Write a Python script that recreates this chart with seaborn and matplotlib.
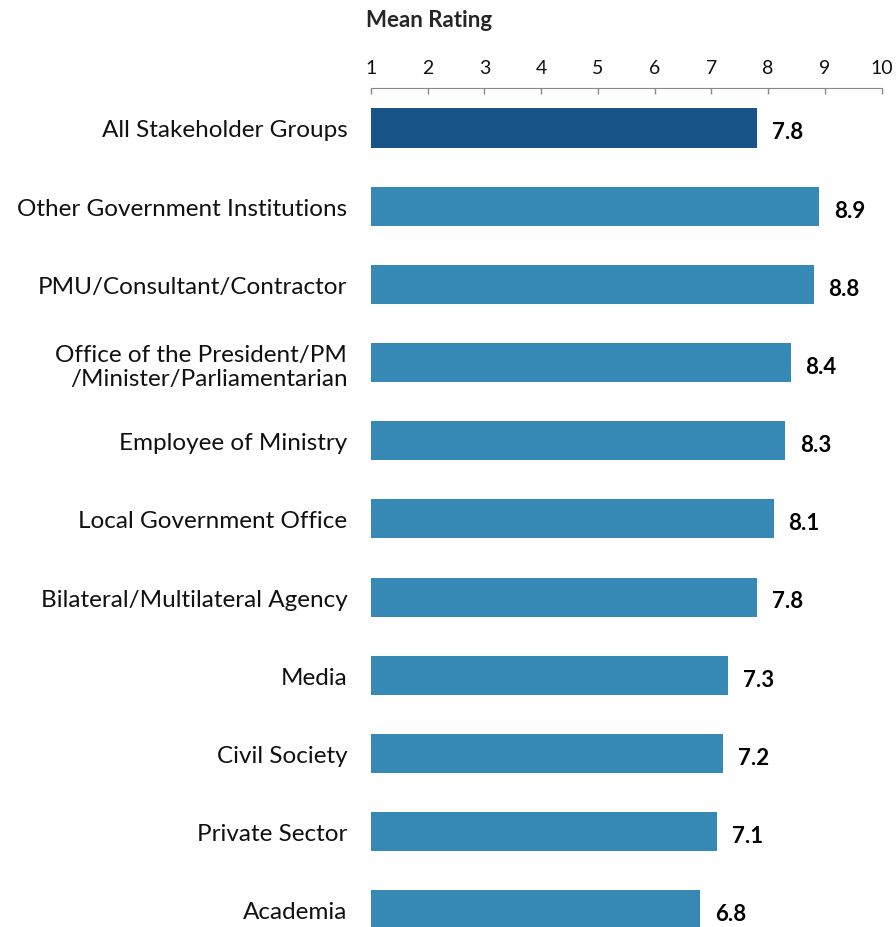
import pandas as pd
import matplotlib.pyplot as plt
import seaborn as sns

# Mean rating by stakeholder group
groups = ['All Stakeholder Groups', 'Other Government Institutions', 'PMU/Consultant/Contractor',
          'Office of the President/PM\n/Minister/Parliamentarian', 'Employee of Ministry',
          'Local Government Office', 'Bilateral/Multilateral Agency', 'Media', 'Civil Society',
          'Private Sector', 'Academia']
ratings = [7.8, 8.9, 8.8, 8.4, 8.3, 8.1, 7.8, 7.3, 7.2, 7.1, 6.8]
kind = ['all'] + ['group'] * 10

df = pd.DataFrame({'group': groups, 'rating': ratings, 'kind': kind})

sns.set_style('white')
plt.rcParams['font.family'] = ['Lato', 'DejaVu Sans']

fig = plt.figure(figsize=(8.96, 9.28), dpi=100)
ax = fig.add_axes([0.414, 0.0, 0.570, 0.904])

sns.barplot(data=df, x='rating', y='group', hue='kind', dodge=False,
            palette={'all': '#175387', 'group': '#3589B4'}, width=0.5,
            saturation=1, legend=False, ax=ax)

# bars start at 1, so shift widths
for p in ax.patches:
    p.set_x(1)
    p.set_width(p.get_width() - 1)
    p.set_edgecolor('none')

for i, v in enumerate(ratings):
    ax.text(v + 0.26, i + 0.05, f'{v:.1f}', va='center', ha='left',
            fontsize=16, fontweight='bold', color='black')

ax.set_xlim(1, 10)
ax.set_ylim(10.22, -0.51)
ax.xaxis.tick_top()
ax.set_xticks(range(1, 11))
ax.tick_params(axis='x', direction='in', length=4, color='#888888', width=1,
               labelsize=14, pad=9, labelcolor='#111111')
ax.tick_params(axis='y', length=0, labelsize=17.5, pad=17, labelcolor='#111111')
for s in ['right', 'bottom', 'left']:
    ax.spines[s].set_visible(False)
ax.spines['top'].set_color('#888888')
ax.set_xlabel('')
ax.set_ylabel('')
for lbl in ax.get_yticklabels():
    lbl.set_horizontalalignment('right')
    lbl.set_multialignment('right')

fig.text(0.409, 0.978, 'Mean Rating', fontsize=16, fontweight='bold', va='center')

fig.savefig('out.png', dpi=100)
